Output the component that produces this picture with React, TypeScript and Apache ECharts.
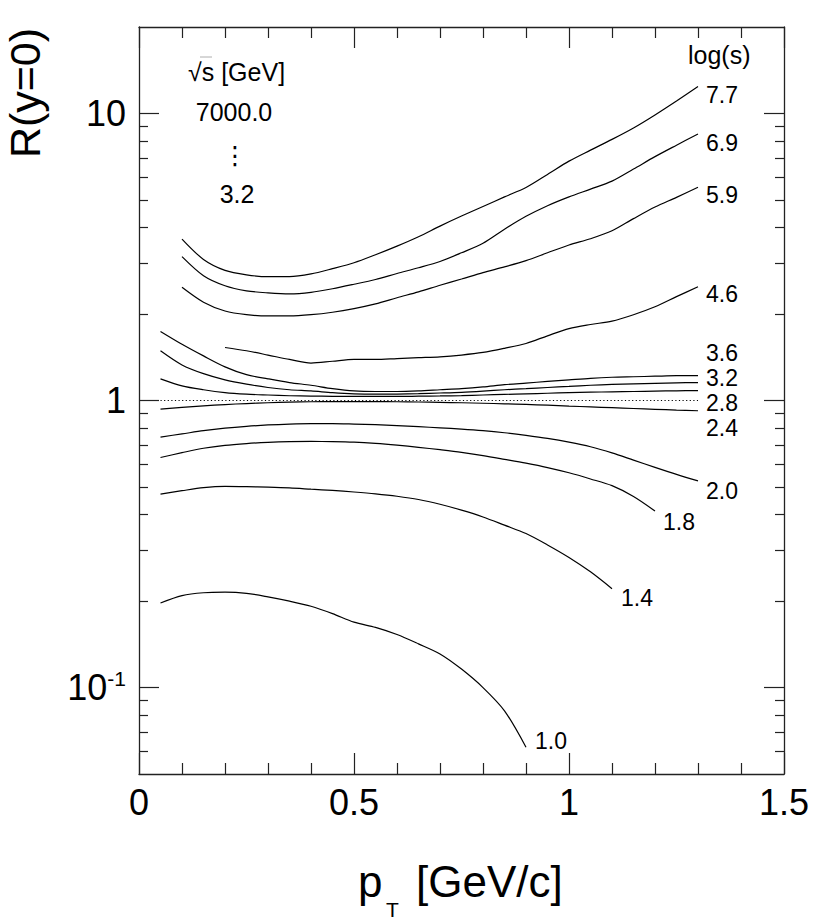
import React, { useEffect, useRef } from 'react';
import * as echarts from 'echarts';

// transverse momentum grid [GeV/c]
const ptGrid = [0.05, 0.10, 0.15, 0.20, 0.25, 0.30, 0.35, 0.40, 0.45, 0.50, 0.55, 0.60, 0.65,
  0.70, 0.75, 0.80, 0.85, 0.90, 0.95, 1.00, 1.05, 1.10, 1.15, 1.20, 1.25, 1.30];

// R(y=0) for each log(s)
const r77 = [null, 3.65, 3.10, 2.84, 2.74, 2.70, 2.70, 2.76, 2.88, 3.02, 3.22, 3.45, 3.72, 4.05, 4.39, 4.74, 5.12, 5.52, 6.13, 6.82, 7.45, 8.12, 8.90, 9.88, 11.05, 12.4];
const r69 = [null, 3.17, 2.72, 2.51, 2.41, 2.37, 2.35, 2.38, 2.45, 2.54, 2.64, 2.77, 2.90, 3.05, 3.27, 3.53, 3.95, 4.38, 4.77, 5.12, 5.45, 5.81, 6.40, 7.07, 7.75, 8.48];
const r59 = [null, 2.48, 2.20, 2.05, 1.99, 1.97, 1.97, 1.99, 2.03, 2.09, 2.17, 2.28, 2.39, 2.52, 2.65, 2.79, 2.92, 3.07, 3.27, 3.48, 3.66, 3.90, 4.30, 4.72, 5.10, 5.53];
const r46 = [null, null, null, 1.53, 1.49, 1.44, 1.39, 1.35, 1.37, 1.39, 1.39, 1.40, 1.41, 1.42, 1.44, 1.47, 1.52, 1.58, 1.68, 1.78, 1.84, 1.89, 1.99, 2.12, 2.30, 2.49];
const r36 = [1.74, 1.57, 1.43, 1.31, 1.23, 1.19, 1.155, 1.13, 1.10, 1.08, 1.075, 1.075, 1.08, 1.09, 1.10, 1.115, 1.135, 1.15, 1.165, 1.18, 1.195, 1.205, 1.21, 1.215, 1.22, 1.22];
const r32 = [1.49, 1.33, 1.24, 1.18, 1.14, 1.11, 1.09, 1.08, 1.065, 1.055, 1.052, 1.053, 1.057, 1.062, 1.068, 1.078, 1.09, 1.10, 1.11, 1.12, 1.13, 1.138, 1.143, 1.148, 1.152, 1.155];
const r28 = [1.19, 1.125, 1.09, 1.065, 1.052, 1.045, 1.039, 1.036, 1.034, 1.033, 1.033, 1.033, 1.035, 1.037, 1.040, 1.045, 1.050, 1.055, 1.060, 1.065, 1.069, 1.072, 1.075, 1.078, 1.081, 1.083];
const r24 = [0.933, 0.946, 0.958, 0.968, 0.976, 0.982, 0.987, 0.99, 0.991, 0.991, 0.991, 0.99, 0.988, 0.985, 0.982, 0.978, 0.974, 0.969, 0.963, 0.956, 0.950, 0.944, 0.938, 0.932, 0.926, 0.921];
const r20 = [0.746, 0.765, 0.785, 0.801, 0.813, 0.822, 0.828, 0.831, 0.831, 0.828, 0.824, 0.818, 0.811, 0.803, 0.795, 0.785, 0.772, 0.756, 0.738, 0.716, 0.690, 0.657, 0.620, 0.585, 0.553, 0.525];
const r18 = [0.633, 0.658, 0.682, 0.698, 0.708, 0.715, 0.719, 0.72, 0.719, 0.716, 0.709, 0.699, 0.687, 0.674, 0.660, 0.643, 0.624, 0.605, 0.584, 0.560, 0.533, 0.505, 0.463, 0.412, null, null];
const r14 = [0.472, 0.485, 0.497, 0.502, 0.501, 0.499, 0.496, 0.491, 0.486, 0.480, 0.473, 0.464, 0.452, 0.435, 0.415, 0.393, 0.368, 0.344, 0.314, 0.284, 0.253, 0.221, null, null, null, null];
const r10 = [0.197, 0.209, 0.214, 0.215, 0.213, 0.207, 0.200, 0.192, 0.181, 0.169, 0.162, 0.153, 0.142, 0.131, 0.116, 0.100, 0.083, 0.062, null, null, null, null, null, null, null, null];

const curves = [r77, r69, r59, r46, r36, r32, r28, r24, r20, r18, r14, r10];
const curveNames = ['7.7', '6.9', '5.9', '4.6', '3.6', '3.2', '2.8', '2.4', '2.0', '1.8', '1.4', '1.0'];

// unity reference line
const unityX = [0.05, 1.30];
const unityY = [1, 1];

// axis ticks
const yMajor = [0.1, 1, 10];
const yMinor = [0.06, 0.07, 0.08, 0.09, 0.2, 0.3, 0.4, 0.5, 0.6, 0.7, 0.8, 0.9, 2, 3, 4, 5, 6, 7, 8, 9];

// text annotations
const sqrtSText = ['7000.0', '⋮', '3.2'];

// label layout (pixel positions of curve labels: left x, middle y)
const labelLayout: [number, number][] = [
  [706, 95], [706, 143], [706, 195], [706, 294], [706, 353], [706, 378],
  [706, 403], [706, 428], [706, 491], [663, 522], [621, 598], [535, 741],
];

const FONT = '"Liberation Sans", Arial, Helvetica, sans-serif';
const INK = '#000';
const FRAME = '#222';

export default function App() {
  const ref = useRef<HTMLDivElement>(null);
  useEffect(() => {
    document.body.style.margin = '0';
    if (!ref.current) return;
    const chart = echarts.init(ref.current, undefined, { renderer: 'svg' });

    const yFmt = (v: number) => {
      const e = Math.round(Math.log10(v));
      if (e === -1) return '{b|10}{s|-1}';
      if (e === 0) return '{b|1}';
      return '{b|10}';
    };

    const lineSeries = curves.map((arr, i) => ({
      type: 'line',
      name: curveNames[i],
      xAxisIndex: 0,
      yAxisIndex: 0,
      data: ptGrid.map((x, j) => [x, arr[j]]).filter((d) => d[1] != null),
      showSymbol: false,
      symbol: 'none',
      smooth: 0.3,
      lineStyle: { color: INK, width: 1.2 },
      silent: true,
    }));

    const baseX = {
      type: 'value',
      min: 0,
      max: 1.5,
      interval: 0.5,
      axisLine: { show: true, onZero: false, lineStyle: { color: FRAME, width: 1.3 } },
      axisTick: { show: true, inside: true, length: 21, lineStyle: { color: FRAME, width: 1.2 } },
      minorTick: { show: true, splitNumber: 5, length: 11, lineStyle: { color: FRAME, width: 1.2 } },
      splitLine: { show: false },
      minorSplitLine: { show: false },
    };

    const baseY = {
      type: 'log',
      logBase: 10,
      min: 0.05,
      max: 20,
      splitLine: { show: false },
      offset: 0,
    };

    const option = {
      animation: false,
      backgroundColor: '#fff',
      grid: { left: 139, top: 27, width: 645, height: 747, containLabel: false },
      xAxis: [
        {
          ...baseX,
          position: 'bottom',
          axisLabel: {
            show: true, showMinLabel: true, showMaxLabel: true,
            fontSize: 36, fontFamily: FONT, color: INK, margin: 10,
            formatter: (v: number) => String(v),
          },
        },
        { ...baseX, position: 'top', axisLabel: { show: false } },
      ],
      yAxis: [
        {
          ...baseY,
          position: 'left',
          axisLine: { show: true, onZero: false, lineStyle: { color: FRAME, width: 1.3 } },
          axisTick: { show: true, inside: true, length: 20, customValues: yMajor, lineStyle: { color: FRAME, width: 1.2 } },
          axisLabel: {
            show: true, customValues: yMajor, margin: 13, formatter: yFmt,
            rich: {
              b: { fontSize: 36, fontFamily: FONT, color: INK, lineHeight: 40 },
              s: { fontSize: 21, fontFamily: FONT, color: INK, lineHeight: 21, verticalAlign: 'top' },
            },
          },
        },
        {
          ...baseY,
          position: 'left',
          axisLine: { show: false, onZero: false },
          axisTick: { show: true, inside: true, length: 9, customValues: yMinor, lineStyle: { color: FRAME, width: 1.2 } },
          axisLabel: { show: false },
        },
        {
          ...baseY,
          position: 'right',
          axisLine: { show: true, onZero: false, lineStyle: { color: FRAME, width: 1.3 } },
          axisTick: { show: true, inside: true, length: 20, customValues: yMajor, lineStyle: { color: FRAME, width: 1.2 } },
          axisLabel: { show: false },
        },
        {
          ...baseY,
          position: 'right',
          axisLine: { show: false, onZero: false },
          axisTick: { show: true, inside: true, length: 9, customValues: yMinor, lineStyle: { color: FRAME, width: 1.2 } },
          axisLabel: { show: false },
        },
      ],
      series: [
        ...lineSeries,
        {
          type: 'line',
          name: 'unity',
          xAxisIndex: 0,
          yAxisIndex: 0,
          data: unityX.map((x, j) => [x, unityY[j]]),
          showSymbol: false,
          symbol: 'none',
          lineStyle: { color: INK, width: 1, type: [1.2, 2.4] },
          silent: true,
        },
      ],
      graphic: [
        // axis titles
        {
          type: 'text', x: 25, y: 93, rotation: Math.PI / 2,
          style: { text: 'R(y=0)', font: `43px ${FONT}`, fill: INK, align: 'center', verticalAlign: 'middle' },
        },
        {
          type: 'text', x: 358, y: 881,
          style: { text: 'p', font: `44px ${FONT}`, fill: INK, align: 'left', verticalAlign: 'middle' },
        },
        {
          type: 'text', x: 386, y: 909,
          style: { text: 'T', font: `21px ${FONT}`, fill: INK, align: 'left', verticalAlign: 'middle', lineHeight: 18 },
        },
        {
          type: 'text', x: 416, y: 881,
          style: { text: '[GeV/c]', font: `44px ${FONT}`, fill: INK, align: 'left', verticalAlign: 'middle' },
        },
        // sqrt(s) annotation
        {
          type: 'text', x: 188, y: 72,
          style: { text: '√s [GeV]', font: `25px ${FONT}`, fill: INK, align: 'left', verticalAlign: 'middle' },
        },
        {
          type: 'line', shape: { x1: 200, y1: 57, x2: 212, y2: 57 },
          style: { stroke: '#999', lineWidth: 0.8 },
        },
        {
          type: 'text', x: 234, y: 112,
          style: { text: sqrtSText[0], font: `25px ${FONT}`, fill: INK, align: 'center', verticalAlign: 'middle' },
        },
        {
          type: 'text', x: 235, y: 155,
          style: { text: sqrtSText[1], font: `25px "DejaVu Sans", ${FONT}`, fill: INK, align: 'center', verticalAlign: 'middle' },
        },
        {
          type: 'text', x: 237, y: 194,
          style: { text: sqrtSText[2], font: `25px ${FONT}`, fill: INK, align: 'center', verticalAlign: 'middle' },
        },
        {
          type: 'text', x: 688, y: 55,
          style: { text: 'log(s)', font: `25px ${FONT}`, fill: INK, align: 'left', verticalAlign: 'middle' },
        },
        ...curveNames.map((name, i) => ({
          type: 'text', x: labelLayout[i][0], y: labelLayout[i][1],
          style: { text: name, font: `23px ${FONT}`, fill: INK, align: 'left', verticalAlign: 'middle', lineHeight: 19 },
        })),
      ],
    };

    chart.setOption(option as any);
    return () => chart.dispose();
  }, []);

  return <div ref={ref} style={{ width: 817, height: 921 }} />;
}
